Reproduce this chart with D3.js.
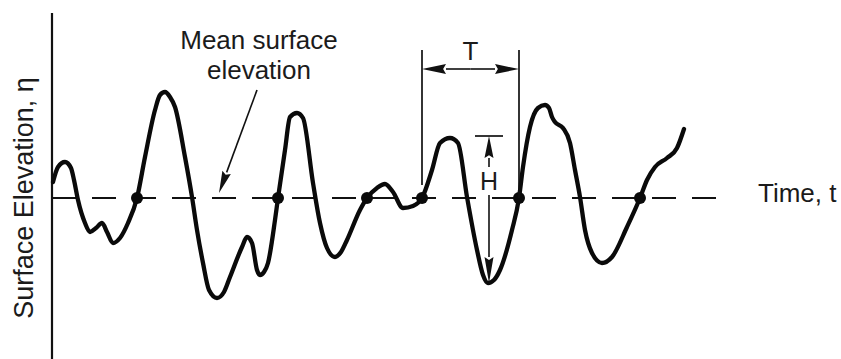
<!DOCTYPE html>
<html>
<head>
<meta charset="utf-8">
<script src="https://cdn.jsdelivr.net/npm/d3@7"></script>
<style>
body{margin:0;background:#fff;}
text{font-family:"Liberation Sans",Arial,Helvetica,sans-serif;fill:#1b1b1b;}
</style>
</head>
<body>
<svg id="chart"></svg>
<script>
// wave record: time t and surface elevation eta (arbitrary units, mean = 0)
var timeVals=[0.1,0.6,1.3,1.9,2.2,2.6,3.3,3.8,4.4,5.0,5.5,6.1,6.8,7.6,8.5,
  9.3,10.3,10.8,11.3,11.8,12.3,13.3,14.0,14.5,15.1,15.7,16.5,17.2,17.8,19.0,
  19.5,20.0,20.5,20.8,21.2,21.6,22.3,22.6,23.3,23.8,24.5,25.1,26.1,26.8,27.5,
  28.3,28.9,29.5,30.8,31.5,32.5,33.3,34.1,35.1,36.1,37.0,38.0,38.8,39.8,40.6,
  41.5,42.5,43.1,43.6,44.2,44.8,46.0,46.7,47.1,47.8,48.6,49.3,49.7,50.0,50.3,
  51.1,51.8,52.3,52.8,53.3,54.0,55.0,56.0,57.5,58.8,59.5,60.3,61.5,62.5,63.2];
var etaVals=[0.8,1.55,1.8,1.5,0.9,-0.1,-1.25,-1.7,-1.5,-1.25,-1.7,-2.25,-2.0,-1.25,0,
  2.05,4.4,5.15,5.3,5.05,4.55,2.05,0.05,-1.6,-3.25,-4.6,-5.0,-4.7,-3.95,-2.45,
  -1.95,-2.25,-3.6,-3.85,-3.7,-3.25,-1.1,0,2.4,4.05,4.25,4.0,0.75,-1.25,-2.5,
  -2.95,-2.7,-2.1,-0.6,0,0.5,0.7,0.3,-0.5,-0.4,0,1.4,2.75,3.0,2.75,
  0.05,-2.6,-3.85,-4.25,-4.1,-3.6,-1.6,0,1.55,3.55,4.5,4.65,4.5,4.05,3.8,
  3.5,2.75,1.4,0.05,-1.6,-2.75,-3.25,-2.95,-1.45,0,0.9,1.55,2.0,2.5,3.45];

// zero up-crossings
var crossTimes=[8.5,22.6,31.5,37.0,46.7,58.8];

// wave period T and height H of the marked wave
var periodStart=37.0, periodEnd=46.7;
var waveTime=43.7, crestEta=3.1, troughEta=-4.25;
var meanEta=0, meanEnd=67.5;

var w=841,h=359;
var xScale=d3.scaleLinear().domain([0,70]).range([52,752]);
var yScale=d3.scaleLinear().domain([-8,8]).range([358,38]);

var svg=d3.select("#chart").attr("width",w).attr("height",h);

function arrow(x1,y1,x2,y2,len,hw,sw){
  var dx=x2-x1,dy=y2-y1,d=Math.sqrt(dx*dx+dy*dy),ux=dx/d,uy=dy/d;
  var bx=x2-ux*len,by=y2-uy*len;
  svg.append("line").attr("x1",x1).attr("y1",y1).attr("x2",bx).attr("y2",by)
     .attr("stroke","#111").attr("stroke-width",sw);
  svg.append("path")
     .attr("d","M"+x2+","+y2+"L"+(bx-uy*hw)+","+(by+ux*hw)+"L"+(bx+ux*len*0.12)+","+(by+uy*len*0.12)+"L"+(bx+uy*hw)+","+(by-ux*hw)+"Z")
     .attr("fill","#111");
}

// vertical axis
svg.append("line").attr("x1",52).attr("x2",52).attr("y1",13).attr("y2",359)
   .attr("stroke","#111").attr("stroke-width",2.2);

// mean surface line
svg.append("line")
   .attr("x1",xScale(0)).attr("x2",xScale(meanEnd))
   .attr("y1",yScale(meanEta)).attr("y2",yScale(meanEta))
   .attr("stroke","#111").attr("stroke-width",2.2)
   .attr("stroke-dasharray","24,16");

// wave trace
var pts=timeVals.map(function(t,i){return [t,etaVals[i]];});
var line=d3.line()
   .x(function(d){return xScale(d[0]);})
   .y(function(d){return yScale(d[1]);})
   .curve(d3.curveMonotoneX);
svg.append("path").datum(pts).attr("d",line)
   .attr("fill","none").attr("stroke","#0a0a0a").attr("stroke-width",4.3)
   .attr("stroke-linejoin","round").attr("stroke-linecap","round");

// crossing dots
svg.selectAll("circle.cross").data(crossTimes).enter().append("circle")
   .attr("class","cross")
   .attr("cx",function(d){return xScale(d);})
   .attr("cy",yScale(meanEta))
   .attr("r",6).attr("fill","#0a0a0a");

// period T
var tTop=yScale(7.4), tArrowY=yScale(6.45);
svg.append("line").attr("x1",xScale(periodStart)).attr("x2",xScale(periodStart))
   .attr("y1",tTop).attr("y2",yScale(0.65)).attr("stroke","#111").attr("stroke-width",1.7);
svg.append("line").attr("x1",xScale(periodEnd)).attr("x2",xScale(periodEnd))
   .attr("y1",tTop).attr("y2",yScale(meanEta)).attr("stroke","#111").attr("stroke-width",1.7);
var tMid=(xScale(periodStart)+xScale(periodEnd))/2;
arrow(tMid,tArrowY,xScale(periodStart),tArrowY,24,5,1.6);
arrow(tMid,tArrowY,xScale(periodEnd),tArrowY,24,5,1.6);
svg.append("text").attr("x",tMid).attr("y",60).attr("text-anchor","middle")
   .attr("font-size",26).text("T");

// height H
var hx=xScale(waveTime);
svg.append("line").attr("x1",hx-14).attr("x2",hx+14)
   .attr("y1",yScale(crestEta)).attr("y2",yScale(crestEta))
   .attr("stroke","#111").attr("stroke-width",1.7);
arrow(hx,yScale(1.55),hx,yScale(crestEta),22,4.5,1.6);
arrow(hx,yScale(0.15),hx,yScale(troughEta),26,4.5,1.6);
svg.append("text").attr("x",hx).attr("y",190).attr("text-anchor","middle")
   .attr("font-size",25).text("H");

// mean surface label
arrow(xScale(20.5),yScale(5.4),xScale(16.7),yScale(0.25),22,4.5,1.6);
svg.append("text").attr("x",259).attr("y",49).attr("text-anchor","middle")
   .attr("font-size",26).text("Mean surface");
svg.append("text").attr("x",259).attr("y",79).attr("text-anchor","middle")
   .attr("font-size",26).text("elevation");

// axis labels
svg.append("text").attr("x",758).attr("y",202).attr("font-size",26).text("Time, t");
svg.append("text").attr("transform","translate(33,198) rotate(-90)")
   .attr("text-anchor","middle").attr("font-size",27).text("Surface Elevation, η");
</script>
</body>
</html>
